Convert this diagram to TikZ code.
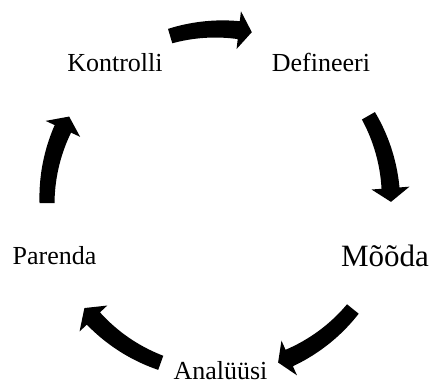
\documentclass[tikz,border=0pt]{standalone}
\usepackage{fontspec}
\setmainfont{Liberation Serif}
\usetikzlibrary{positioning}
\usetikzlibrary{calc}

% block arrow bent round the cycle: tail angle, head base angle, tip angle
\newcommand{\cycarrow}[3]{%
  \fill[shift={(c)}]
    plot[domain=#1:#2, samples=20] (\x:{172+7.5+1.5*(\x-(#1))/((#2)-(#1))})
    -- (#2:191) -- (#3:172) -- (#2:153)
    -- plot[domain=#2:#1, samples=20] (\x:{172-7.5-1.5*(\x-(#1))/((#2)-(#1))})
    -- cycle;}

\begin{document}
\begin{tikzpicture}[x=1pt, y=1pt,
  phase/.style={inner sep=0pt, anchor=base, font=\fontsize{26}{30}\selectfont},
  bigphase/.style={phase, font=\fontsize{31}{36}\selectfont}]
\useasboundingbox (0,0) rectangle (432,385);
\coordinate (c) at (219,184);

\node[phase] (kontrolli) at (115,313) {Kontrolli};
\node[phase] (defineeri) at (321,313) {Defineeri};
\node[bigphase] (mooda) at (385,118) {Mõõda};
\node[phase] (analyysi) at (220.5,5.5) {Analüüsi};
\node[phase] (parenda) at (54.5,120) {Parenda};

\foreach \a / \b / \t in {106.5/83.4/79, 29.7/4.3/-0.3, -38.9/-65.9/-69.9,
                          250.2/223.1/218.5, 180.7/155.2/150.6}
  \cycarrow{\a}{\b}{\t};

\end{tikzpicture}
\end{document}
